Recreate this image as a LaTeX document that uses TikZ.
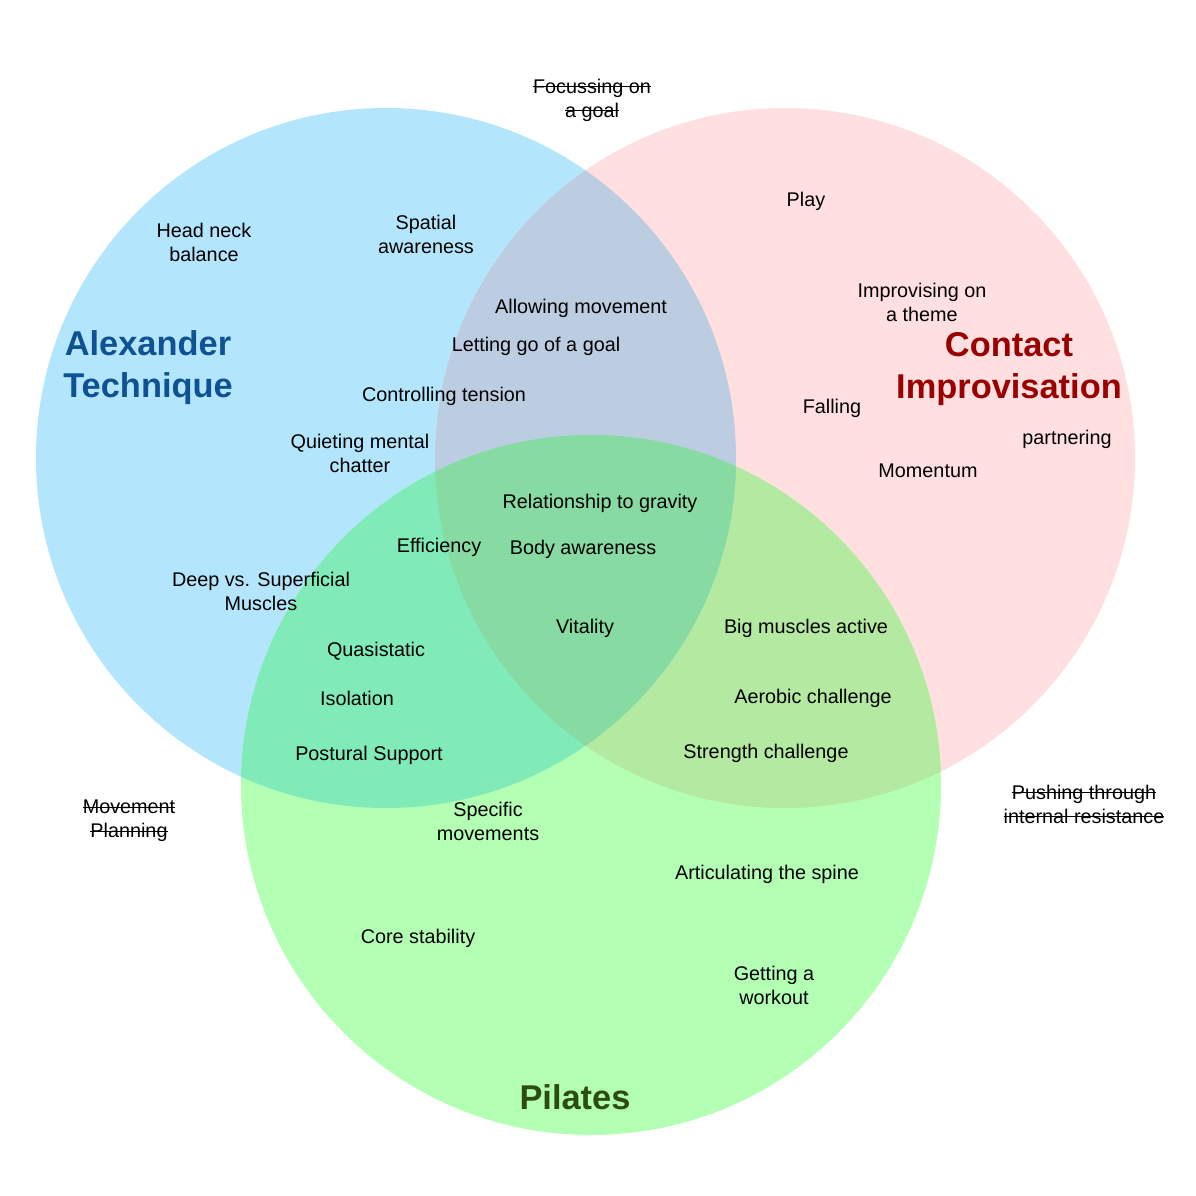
\documentclass[tikz,border=0pt]{standalone}
\usepackage{fontspec}
\setmainfont{Liberation Sans}

\definecolor{atblue}{HTML}{B3E5FC}
\definecolor{cipink}{HTML}{FFDFDF}
\definecolor{pigreen}{HTML}{B3FFB3}
\definecolor{atci}{HTML}{BCCDE2}
\definecolor{atpi}{HTML}{80EBB8}
\definecolor{cipi}{HTML}{B3E9A0}
\definecolor{allthree}{HTML}{86DAA2}
\definecolor{attext}{HTML}{0F5293}
\definecolor{citext}{HTML}{990000}
\definecolor{pitext}{HTML}{2D4D10}

% struck-through text
\newcommand\strk[1]{\setbox0\hbox{#1}\rlap{\rule[0.3em]{\wd0}{0.6pt}}\box0}

\begin{document}
\begin{tikzpicture}[
x=0.5pt,y=-0.5pt,
every node/.append style={font={\fontsize{9.9pt}{12pt}\selectfont},align=center,inner sep=0pt},
caption/.style={font={\fontsize{17.2pt}{21pt}\selectfont\bfseries}},
struck/.style={font={\fontsize{9.9pt}{12pt}\selectfont}},
]
\fill[white] (0,0) rectangle (1196,1196);
\useasboundingbox (0,0) rectangle (1196,1196);

% circle centres
\coordinate (AT) at (386,458);
\coordinate (CI) at (785,458);
\coordinate (PI) at (591,785);

\fill[atblue] (AT) circle[radius=175pt];
\fill[cipink] (CI) circle[radius=175pt];
\fill[pigreen] (PI) circle[radius=175pt];
\begin{scope}
\clip (CI) circle[radius=175pt];
\fill[cipi] (PI) circle[radius=175pt];
\end{scope}
\begin{scope}
\clip (AT) circle[radius=175pt];
\fill[atci] (CI) circle[radius=175pt];
\fill[atpi] (PI) circle[radius=175pt];
\clip (CI) circle[radius=175pt];
\fill[allthree] (PI) circle[radius=175pt];
\end{scope}

% titles
\node[caption,text=attext] (alex) at (148,367.5) {Alexander\\Technique};
\node[caption,text=citext] (contact) at (1009,369) {Contact\\Improvisation};
\node[caption,text=pitext] (pilates) at (575,1097) {Pilates};

% crossed out
\node[struck] (focus) at (592,100) {\strk{Focussing on}\\\strk{a goal}};
\node[struck] (movplan) at (129,821) {\strk{Movement}\\\strk{Planning}};
\node[struck] (pushing) at (1084,804) {\strk{Pushing through}\\\strk{internal resistance}};

% Alexander Technique
\node (headneck) at (204,242) {Head neck\\balance};
\node (spatial) at (426,234) {Spatial\\awareness};
\node (controlling) at (444,396) {Controlling tension};
\node (quieting) at (360,453) {Quieting mental\\chatter};
\node (deep) at (261,591) {Deep vs. Superficial\\Muscles};

% Contact Improvisation
\node (play) at (806,201) {Play};
\node (improv) at (922,302) {Improvising on\\a theme};
\node (falling) at (832,408) {Falling};
\node (partnering) at (1067,439) {partnering};
\node (momentum) at (928,471) {Momentum};

% AT and CI
\node (allowing) at (581,308) {Allowing movement};
\node (letting) at (536,346) {Letting go of a goal};

% all three
\node (gravity) at (600,503) {Relationship to gravity};
\node (bodyaw) at (583,549) {Body awareness};
\node (vitality) at (585,628) {Vitality};

% AT and Pilates
\node (efficiency) at (439,547) {Efficiency};
\node (quasi) at (376,651) {Quasistatic};
\node (isolation) at (357,698) {Isolation};
\node (postural) at (369,755) {Postural Support};

% CI and Pilates
\node (bigmusc) at (806,628) {Big muscles active};
\node (aerobic) at (813,698) {Aerobic challenge};
\node (strength) at (766,753) {Strength challenge};

% Pilates
\node (specific) at (488,821) {Specific\\movements};
\node (spine) at (767,874) {Articulating the spine};
\node (core) at (418,938) {Core stability};
\node (workout) at (774,985) {Getting a\\workout};

\end{tikzpicture}
\end{document}
